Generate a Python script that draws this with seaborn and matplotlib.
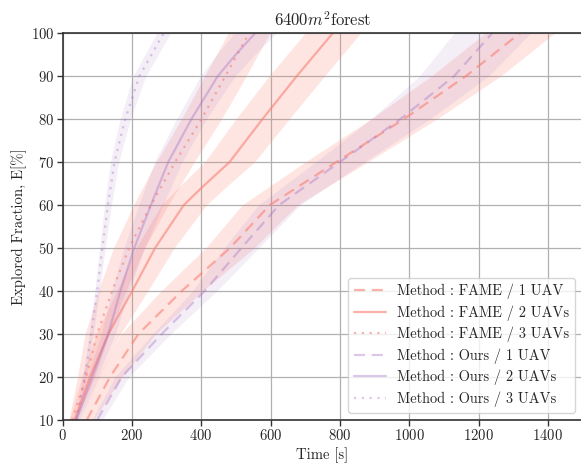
import matplotlib
matplotlib.use("Agg")
import matplotlib.pyplot as plt
import numpy as np
import pandas as pd
import seaborn as sns

# ============================================================
# DATA  (mean time to reach each explored fraction, +/- spread)
# ============================================================
fame1_E = [10, 20, 30, 40, 50, 60, 70, 80, 90, 100]
fame1_t = [70, 137, 219, 344, 483, 598, 790, 985, 1164, 1320]
fame1_sd = [20, 35, 50, 60, 70, 80, 90, 95, 100, 100]

fame2_E = [10, 20, 30, 40, 50, 60, 64, 70, 80, 90, 100]
fame2_t = [35, 80, 132, 201, 267, 350, 401, 482, 577, 676, 780]
fame2_sd = [15, 25, 35, 45, 55, 65, 68, 72, 77, 80, 80]

fame3_E = [10, 20, 30, 40, 50, 60, 70, 80, 90, 100]
fame3_t = [28, 68, 100, 143, 192, 255, 325, 401, 470, 538]
fame3_sd = [10, 25, 35, 40, 45, 50, 55, 58, 60, 60]

ours1_E = [10, 20, 30, 40, 50, 60, 70, 80, 90, 100]
ours1_t = [100, 171, 286, 410, 516, 625, 800, 975, 1130, 1240]
ours1_sd = [15, 20, 26, 35, 50, 60, 70, 85, 100, 110]

ours2_E = [10, 20, 30, 40, 50, 60, 70, 80, 90, 95, 100]
ours2_t = [40, 86, 132, 167, 207, 255, 305, 372, 448, 500, 556]
ours2_sd = [8, 15, 20, 25, 30, 35, 40, 43, 50, 55, 60]

ours3_E = [10, 20, 30, 40, 50, 60, 70, 80, 90, 100]
ours3_t = [40, 64, 83, 100, 115, 131, 150, 181, 222, 292]
ours3_sd = [4, 5, 6, 7, 8, 10, 12, 15, 18, 20]

labels = [
    r"Method : FAME / 1 UAV",
    r"Method : FAME / 2 UAVs",
    r"Method : FAME / 3 UAVs",
    r"Method : Ours / 1 UAV",
    r"Method : Ours / 2 UAVs",
    r"Method : Ours / 3 UAVs",
]

FAME_COLOR = "salmon"
OURS_COLOR = "#a775c5"

series = [
    (fame1_t, fame1_E, fame1_sd, FAME_COLOR, (5, 3), 0.6, 0.2),
    (fame2_t, fame2_E, fame2_sd, FAME_COLOR, "", 0.6, 0.2),
    (fame3_t, fame3_E, fame3_sd, FAME_COLOR, (1, 2.5), 0.6, 0.2),
    (ours1_t, ours1_E, ours1_sd, OURS_COLOR, (5, 3), 0.4, 0.12),
    (ours2_t, ours2_E, ours2_sd, OURS_COLOR, "", 0.4, 0.12),
    (ours3_t, ours3_E, ours3_sd, OURS_COLOR, (1, 2.5), 0.4, 0.12),
]

# ============================================================
# STYLE
# ============================================================
sns.set_theme(style="whitegrid")
plt.rcParams["font.family"] = ["serif"]
plt.rcParams["font.serif"] = ["cmr10", "DejaVu Serif"]
plt.rcParams["mathtext.fontset"] = "cm"
plt.rcParams["axes.formatter.use_mathtext"] = True
plt.rcParams["axes.unicode_minus"] = False

fig = plt.figure(figsize=(5.81, 4.66), dpi=100)
ax = fig.add_axes([62.5 / 581, 46 / 466, 520 / 581, 387 / 466])

# ============================================================
# PLOT
# ============================================================
for (t, E, sd, color, dash, a_line, a_fill), label in zip(series, labels):
    t = np.asarray(t, dtype=float)
    E = np.asarray(E, dtype=float)
    sd = np.asarray(sd, dtype=float)
    ax.fill_betweenx(E, t - sd, t + sd, color=color, alpha=a_fill, linewidth=0)
    df = pd.DataFrame({"Time": t, "E": E})
    sns.lineplot(data=df, x="Time", y="E", ax=ax, sort=False, estimator=None,
                 color=color, alpha=a_line, linewidth=1.6, label=label,
                 dashes=False)
    line = ax.lines[-1]
    if dash:
        line.set_dashes(dash)

ax.set_xlim(0, 1500)
ax.set_ylim(10, 100)
ax.set_xticks(np.arange(0, 1401, 200))
ax.set_yticks(np.arange(10, 101, 10))

ax.grid(True, color="#b0b0b0", linewidth=0.9)
for side in ["left", "bottom", "top", "right"]:
    ax.spines[side].set_color("#333333")
    ax.spines[side].set_linewidth(1.2)
ax.tick_params(axis="both", which="major", direction="out", length=4,
               width=1, color="#333333", labelsize=10.6, pad=2,
               bottom=True, left=True)

ax.set_xlabel("Time [s]", fontsize=10.6, labelpad=3)
ax.set_ylabel(r"Explored Fraction, E[%]", fontsize=10.6, labelpad=3)
ax.set_title(r"6400$m^2$forest", fontsize=12, pad=5)

leg = ax.legend(loc="lower right", fontsize=10.4, frameon=True, fancybox=True,
                framealpha=0.8, edgecolor="#cccccc", borderaxespad=0.5,
                handlelength=2.2, labelspacing=0.42)
for h in leg.get_lines():
    h.set_linewidth(1.6)

fig.savefig("out.png", dpi=100)
